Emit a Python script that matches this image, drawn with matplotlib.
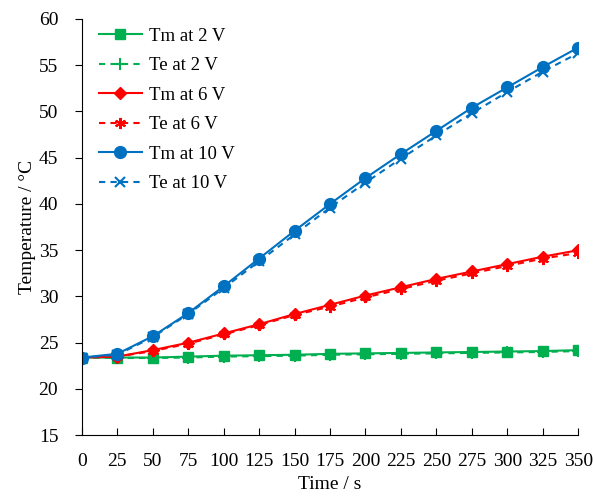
import numpy as np
import matplotlib
matplotlib.use("Agg")
from matplotlib import pyplot as plt

plt.rcParams['font.family'] = ['Liberation Serif', 'DejaVu Serif']

time = [0, 25, 50, 75, 100, 125, 150, 175, 200, 225, 250, 275, 300, 325, 350]

tm_2v = [23.4, 23.4, 23.4, 23.5, 23.6, 23.65, 23.7, 23.8, 23.85, 23.9, 23.95, 24.0, 24.05, 24.1, 24.2]
te_2v = [23.4, 23.35, 23.35, 23.4, 23.5, 23.55, 23.6, 23.7, 23.75, 23.8, 23.85, 23.9, 23.95, 24.0, 24.1]
tm_6v = [23.4, 23.5, 24.2, 25.0, 26.0, 27.0, 28.1, 29.1, 30.1, 31.0, 31.9, 32.7, 33.5, 34.3, 35.0]
te_6v = [23.4, 23.5, 24.1, 24.9, 25.9, 26.9, 28.0, 28.9, 29.9, 30.8, 31.7, 32.5, 33.3, 34.1, 34.7]
tm_10v = [23.4, 23.8, 25.7, 28.2, 31.1, 34.1, 37.1, 40.0, 42.8, 45.4, 47.9, 50.4, 52.6, 54.8, 56.9]
te_10v = [23.4, 23.7, 25.6, 28.1, 30.9, 33.8, 36.7, 39.6, 42.3, 44.9, 47.4, 49.8, 52.1, 54.3, 56.3]

green = '#00B050'
red = '#FF0000'
blue = '#0070C0'
dash = (0, (3, 2.5))

fig = plt.figure(figsize=(5.93, 4.98), dpi=100)
ax = fig.add_axes([0.138, 0.126, 0.837, 0.836])

ax.plot(time, tm_2v, '-', color=green, marker='s', ms=7.5, lw=1.5, label='Tm at 2 V')
ax.plot(time, te_2v, color=green, ls=dash, marker='+', ms=8, mew=1.5, lw=1.5, label='Te at 2 V')
ax.plot(time, tm_6v, '-', color=red, marker='D', ms=6.5, lw=1.5, label='Tm at 6 V')
ax.plot(time, te_6v, color=red, ls=dash, marker=(6, 2, 0), ms=8, mew=1.5, lw=1.5, label='Te at 6 V')
ax.plot(time, tm_10v, '-', color=blue, marker='o', ms=8.5, lw=1.5, label='Tm at 10 V')
ax.plot(time, te_10v, color=blue, ls=dash, marker='x', ms=7, mew=1.5, lw=1.5, label='Te at 10 V')

ax.set_xlim(0, 350)
ax.set_ylim(15, 60)
ax.set_xticks(time)
ax.set_yticks(np.arange(15, 61, 5))
ax.spines['top'].set_visible(False)
ax.spines['right'].set_visible(False)
ax.tick_params(axis='x', direction='in', length=5, labelsize=14, pad=13)
ax.tick_params(axis='y', direction='out', length=5, labelsize=14, pad=12)
ax.set_xlabel('Time / s', fontsize=14, labelpad=4)
ax.set_ylabel('Temperature / °C', fontsize=14, labelpad=2)

ax.legend(loc='upper left', frameon=False, fontsize=13.5, handlelength=2.3,
          handletextpad=0.4, labelspacing=0.66, bbox_to_anchor=(0.0, 1.02))

fig.savefig('out.png', dpi=100)
